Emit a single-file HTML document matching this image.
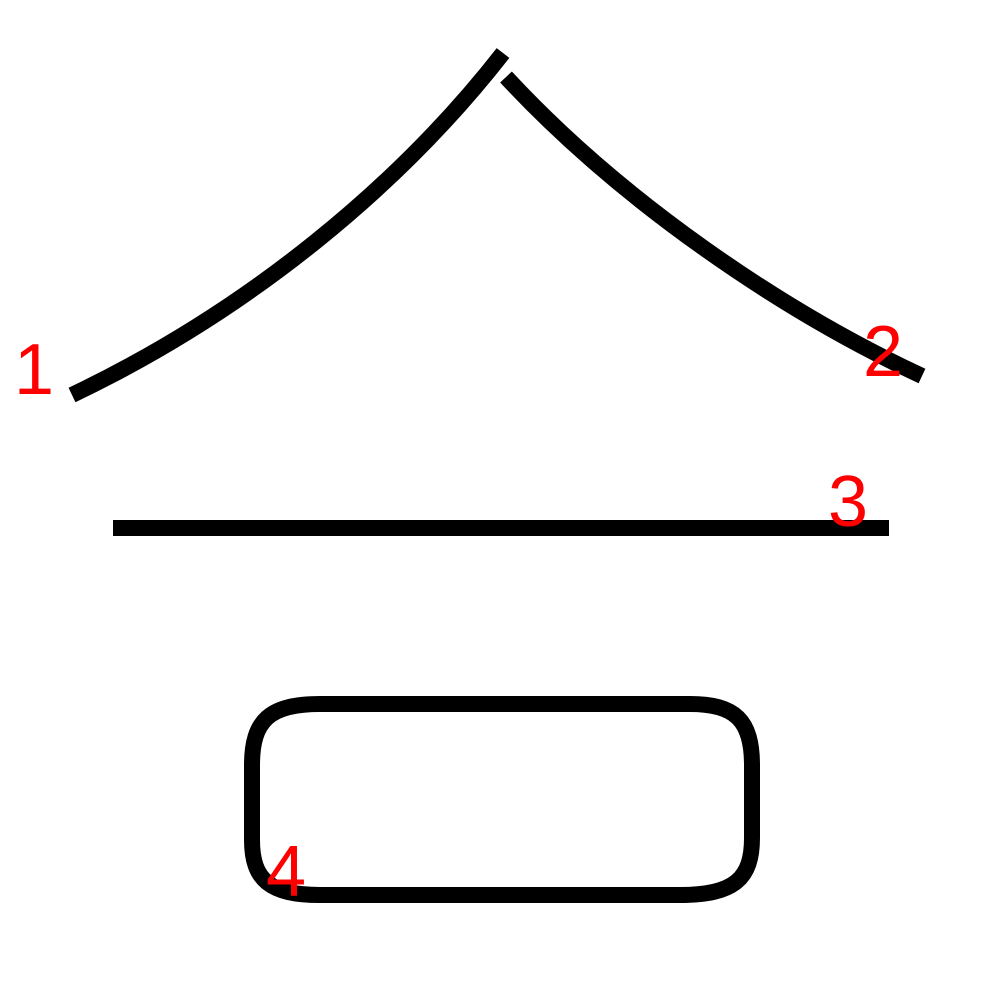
<!DOCTYPE html>
<html>
<head>
<meta charset="utf-8">
<style>
  html,body{margin:0;padding:0;background:#fff;}
  svg{display:block;}
</style>
</head>
<body>
<svg width="1000" height="1000" viewBox="0 0 1000 1000" xmlns="http://www.w3.org/2000/svg">
  <rect width="1000" height="1000" fill="#fff"/>
  <g fill="none" stroke="#000" stroke-width="16">
    <path d="M503,53 C400,185 250,310 72,395"/>
    <path d="M506,77 C620,200 780,310 922,376"/>
    <path d="M113,528 L889,528"/>
    <path d="M320,704 L690,704 C735,704 752,720 752,765 L752,838 C752,878 735,895 680,895 L320,895 C270,895 252,880 252,840 L252,765 C252,720 270,704 320,704 Z"/>
  </g>
  <g fill="#ff0000" font-family="Liberation Sans, sans-serif" font-size="72">
    <text x="14" y="394">1</text>
    <text x="863" y="376">2</text>
    <text x="828" y="526">3</text>
    <text x="266" y="896">4</text>
  </g>
</svg>
</body>
</html>
